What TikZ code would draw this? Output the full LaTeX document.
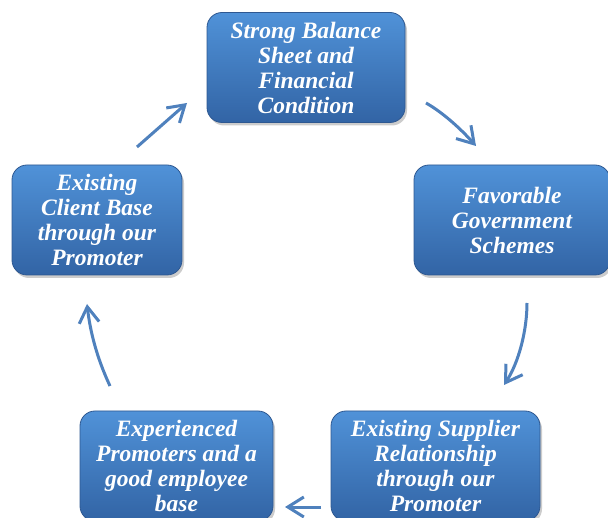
\documentclass[tikz,border=0pt]{standalone}
\usepackage{fontspec}
\setmainfont{Liberation Serif}
\usetikzlibrary{arrows.meta,shadows}
\definecolor{arrowblue}{RGB}{79,129,189}
\definecolor{boxtop}{RGB}{80,146,216}
\definecolor{boxbot}{RGB}{50,100,165}
\definecolor{boxedge}{RGB}{46,88,145}
\begin{document}
\begin{tikzpicture}[x=1pt,y=-1pt,
  cyclebox/.style={rectangle, rounded corners=15pt, top color=boxtop, bottom color=boxbot,
    draw=boxedge, line width=0.8pt, text=white, align=center, inner sep=1pt,
    font=\fontsize{23.5}{25}\selectfont\bfseries\itshape,
    drop shadow={opacity=0.4, shadow xshift=2pt, shadow yshift=-3pt}},
  cyclearrow/.style={draw=arrowblue, line width=3pt,
    -{Straight Barb[length=16pt,width=20pt,line width=3pt]}}]
\clip (0,0) rectangle (608,518);
\useasboundingbox (0,0) rectangle (608,518);
\fill[white] (0,0) rectangle (608,518);

\node[cyclebox, minimum width=198pt, minimum height=110pt] (top) at (306,67.5)
  {Strong Balance\\Sheet and\\Financial\\Condition};
\node[cyclebox, minimum width=196pt, minimum height=110pt] (right) at (512,220)
  {Favorable\\Government\\Schemes};
\node[cyclebox, minimum width=209pt, minimum height=110pt] (bright) at (435.5,466)
  {Existing Supplier\\Relationship\\through our\\Promoter};
\node[cyclebox, minimum width=193pt, minimum height=110pt] (bleft) at (176.5,466)
  {Experienced\\Promoters and a\\good employee\\base};
\node[cyclebox, minimum width=170pt, minimum height=110pt] (left) at (97,220)
  {Existing\\Client Base\\through our\\Promoter};

\coordinate (a1s) at (426,103);  \coordinate (a1e) at (476,146);
\coordinate (a2s) at (527,303);  \coordinate (a2e) at (504,385);
\coordinate (a3s) at (321,507);  \coordinate (a3e) at (285,507);
\coordinate (a4s) at (110,386);  \coordinate (a4e) at (87,304);
\coordinate (a5s) at (137,147);  \coordinate (a5e) at (187,103);

\draw[cyclearrow] (a1s) .. controls (442,112) and (460,128) .. (a1e);
\draw[cyclearrow] (a2s) .. controls (527,330) and (519,362) .. (a2e);
\draw[cyclearrow] (a3s) -- (a3e);
\draw[cyclearrow] (a4s) .. controls (96,356) and (90,330) .. (a4e);
\draw[cyclearrow] (a5s) -- (a5e);
\end{tikzpicture}
\end{document}
